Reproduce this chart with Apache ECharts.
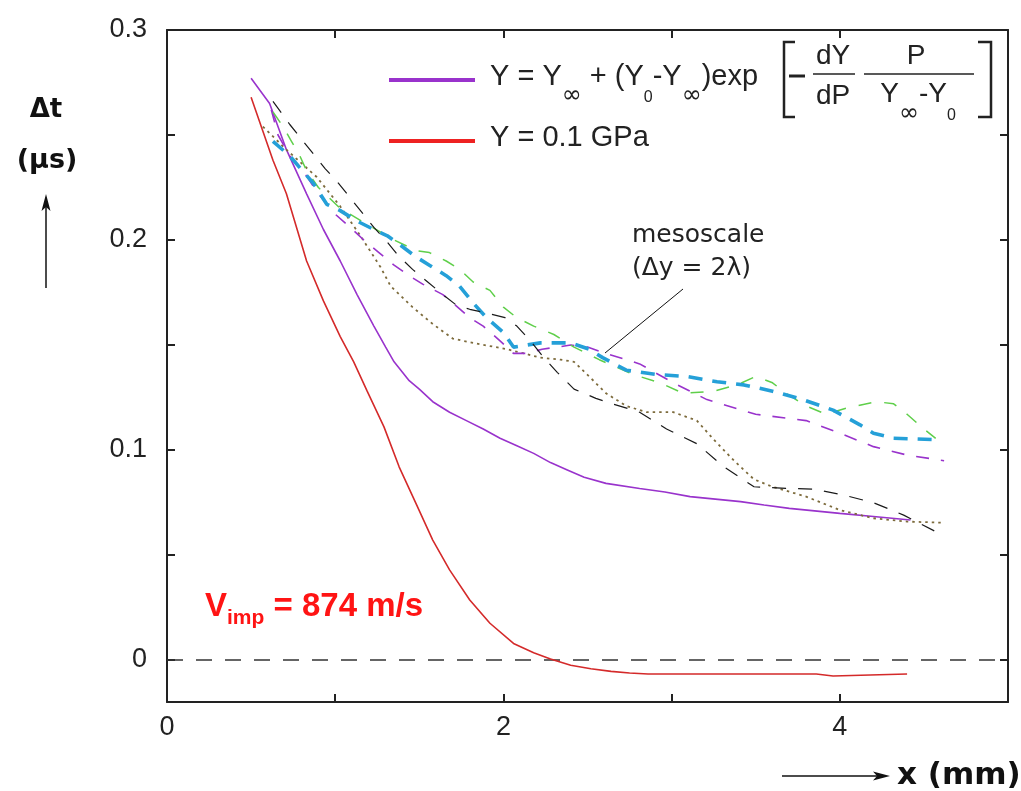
<!DOCTYPE html>
<html>
<head>
<meta charset="utf-8">
<script src="https://cdn.jsdelivr.net/npm/echarts@6/dist/echarts.min.js"></script>
<style>
  html, body { margin: 0; padding: 0; background: #ffffff; }
  #chart { width: 1021px; height: 791px; }
</style>
</head>
<body>
<div id="chart"></div>
<script>
// ---- data (x in mm, Δt in μs) ----
const xTickValues = [1, 2, 3, 4];
const xLabelValues = [0, 2, 4];
const yTickValues = [0, 0.05, 0.1, 0.15, 0.2, 0.25];
const yLabelValues = [0, 0.1, 0.2, 0.3];

const nameExp = 'Y = Y∞ + (Y0-Y∞)exp[−(dY/dP)·P/(Y∞−Y0)]';
const nameConst = 'Y = 0.1 GPa';

const expSolid = [[0.5,0.277],[0.61,0.265],[0.71,0.243],[0.83,0.222],[0.93,0.205],[1.03,0.190],[1.13,0.174],[1.23,0.159],[1.30,0.149],[1.35,0.142],[1.44,0.133],[1.50,0.129],[1.58,0.123],[1.68,0.118],[1.78,0.114],[1.88,0.110],[1.98,0.1056],[2.08,0.102],[2.18,0.0984],[2.28,0.094],[2.38,0.0905],[2.48,0.087],[2.61,0.0841],[2.81,0.0817],[2.96,0.0800],[3.11,0.0778],[3.26,0.0766],[3.41,0.0754],[3.55,0.0738],[3.70,0.0722],[3.85,0.0710],[4.0,0.0698],[4.2,0.0683],[4.42,0.0667]];

const constSolid = [[0.5,0.268],[0.63,0.238],[0.71,0.222],[0.83,0.190],[0.93,0.171],[1.03,0.154],[1.11,0.142],[1.19,0.128],[1.29,0.111],[1.38,0.092],[1.48,0.0746],[1.58,0.0571],[1.68,0.0429],[1.80,0.0286],[1.92,0.0175],[2.06,0.0079],[2.18,0.0035],[2.28,0.0005],[2.40,-0.0025],[2.52,-0.0042],[2.64,-0.0054],[2.75,-0.0062],[2.86,-0.0067],[3.2,-0.0067],[3.6,-0.0067],[3.86,-0.0067],[3.87,-0.0076],[3.96,-0.0076],[3.97,-0.0067],[4.40,-0.0067]];

const mesoPurple = [[0.62,0.262],[0.66,0.250],[0.73,0.240],[0.80,0.234],[0.90,0.222],[0.99,0.213],[1.09,0.206],[1.17,0.200],[1.26,0.194],[1.35,0.188],[1.44,0.183],[1.52,0.179],[1.64,0.174],[1.70,0.170],[1.80,0.163],[1.88,0.159],[1.98,0.152],[2.06,0.146],[2.14,0.146],[2.23,0.148],[2.32,0.149],[2.40,0.150],[2.50,0.149],[2.61,0.146],[2.81,0.141],[3.01,0.132],[3.21,0.124],[3.5,0.117],[3.8,0.114],[4.0,0.108],[4.2,0.1016],[4.4,0.0976],[4.62,0.0949]];

const mesoBlack = [[0.63,0.266],[0.73,0.255],[0.80,0.248],[0.87,0.241],[0.94,0.234],[1.02,0.227],[1.09,0.220],[1.16,0.213],[1.23,0.206],[1.31,0.199],[1.37,0.193],[1.46,0.186],[1.55,0.180],[1.64,0.174],[1.72,0.169],[1.80,0.167],[1.91,0.165],[2.01,0.163],[2.08,0.159],[2.16,0.152],[2.24,0.144],[2.32,0.137],[2.42,0.129],[2.55,0.1246],[2.64,0.1222],[2.81,0.118],[2.97,0.110],[3.15,0.103],[3.31,0.092],[3.49,0.0825],[3.70,0.0817],[3.84,0.0814],[4.02,0.0786],[4.2,0.0749],[4.38,0.069],[4.59,0.0603]];

const mesoGreen = [[0.63,0.261],[0.69,0.254],[0.74,0.247],[0.79,0.240],[0.83,0.233],[0.90,0.225],[1.03,0.215],[1.20,0.207],[1.35,0.200],[1.48,0.195],[1.56,0.194],[1.66,0.190],[1.74,0.186],[1.82,0.180],[1.92,0.176],[2.0,0.168],[2.08,0.163],[2.18,0.159],[2.30,0.155],[2.42,0.149],[2.57,0.143],[2.77,0.136],[2.93,0.132],[3.07,0.127],[3.25,0.128],[3.39,0.131],[3.5,0.135],[3.6,0.132],[3.68,0.127],[3.80,0.121],[3.92,0.117],[4.04,0.120],[4.22,0.123],[4.32,0.122],[4.40,0.117],[4.5,0.110],[4.57,0.1055]];

const mesoCyan = [[0.63,0.247],[0.73,0.240],[0.87,0.227],[0.95,0.217],[1.03,0.214],[1.13,0.209],[1.23,0.205],[1.31,0.202],[1.38,0.198],[1.48,0.192],[1.56,0.188],[1.66,0.183],[1.74,0.178],[1.82,0.170],[1.90,0.163],[2.0,0.156],[2.06,0.149],[2.22,0.151],[2.40,0.151],[2.51,0.148],[2.59,0.144],[2.73,0.138],[2.91,0.136],[3.09,0.135],[3.27,0.1325],[3.43,0.131],[3.6,0.128],[3.78,0.124],[3.96,0.119],[4.12,0.112],[4.2,0.108],[4.32,0.1056],[4.55,0.105]];

const mesoOlive = [[0.57,0.254],[0.71,0.243],[0.89,0.230],[1.03,0.216],[1.15,0.202],[1.27,0.187],[1.33,0.178],[1.46,0.168],[1.58,0.160],[1.70,0.153],[1.82,0.151],[2.02,0.148],[2.22,0.144],[2.34,0.143],[2.42,0.142],[2.51,0.135],[2.61,0.127],[2.73,0.121],[2.85,0.118],[3.01,0.118],[3.15,0.114],[3.25,0.105],[3.37,0.095],[3.49,0.086],[3.6,0.0825],[3.80,0.0778],[4.0,0.0714],[4.2,0.0675],[4.4,0.0659],[4.61,0.0654]];

const zeroLine = [[0, 0], [5, 0]];

// ---- chart ----
const AX = '#222222';
const SANS = '"Liberation Sans", Arial, Helvetica, sans-serif';
const WIDE = '"DejaVu Sans", "Liberation Sans", sans-serif';
const chart = echarts.init(document.getElementById('chart'), null, { renderer: 'canvas' });

function axisX(pos, showLabel) {
  return {
    type: 'value', position: pos, min: 0, max: 5, interval: 1,
    axisLine: { show: true, onZero: false, lineStyle: { color: AX, width: 2 } },
    axisTick: { show: true, inside: true, length: 8, customValues: xTickValues, lineStyle: { color: AX, width: 2 } },
    axisLabel: { show: showLabel, customValues: xLabelValues, margin: 12, fontSize: 27, fontFamily: SANS, color: '#222' },
    splitLine: { show: false }
  };
}
function axisY(pos, showLabel) {
  return {
    type: 'value', position: pos, min: -0.02, max: 0.3,
    axisLine: { show: true, onZero: false, lineStyle: { color: AX, width: 2 } },
    axisTick: { show: true, inside: true, length: 8, customValues: yTickValues, lineStyle: { color: AX, width: 2 } },
    axisLabel: { show: showLabel, customValues: yLabelValues, margin: 20, fontSize: 27, fontFamily: SANS, color: '#222',
      formatter: v => (v === 0 ? '0' : v.toFixed(1)) },
    splitLine: { show: false }
  };
}
function lineSeries(name, data, color, width, type, z) {
  return {
    name, type: 'line', data, xAxisIndex: 0, yAxisIndex: 0,
    symbol: 'none', smooth: false, silent: true, z: z,
    lineStyle: { color, width, type }, itemStyle: { color }
  };
}

// legend rich styles (ECharts model: "color")
const legSub = { fontSize: 16, lineHeight: 16, padding: [28, 0, 0, 0], verticalAlign: 'top', fontFamily: SANS, color: '#222' };
const legInf = { fontSize: 24, lineHeight: 22, padding: [22, 0, 0, 0], verticalAlign: 'top', fontFamily: WIDE, color: '#222' };
const legMain = { fontSize: 29, lineHeight: 36, verticalAlign: 'top', fontFamily: SANS, color: '#222' };
// graphic rich styles (zrender: "fill")
const gSub = { fontSize: 16, lineHeight: 16, padding: [28, 0, 0, 0], verticalAlign: 'top', fontFamily: SANS, fill: '#222' };
const gInf = { fontSize: 24, lineHeight: 22, padding: [22, 0, 0, 0], verticalAlign: 'top', fontFamily: WIDE, fill: '#222' };
const gMain = { fontSize: 28, lineHeight: 36, verticalAlign: 'top', fontFamily: SANS, fill: '#222' };

chart.setOption({
  animation: false,
  backgroundColor: '#ffffff',
  grid: { left: 167, right: 13, top: 30, bottom: 89, containLabel: false },
  xAxis: [axisX('bottom', true), axisX('top', false)],
  yAxis: [axisY('left', true), axisY('right', false)],
  legend: {
    orient: 'vertical', left: 389, top: 62, padding: 0, itemGap: 15,
    itemWidth: 86, itemHeight: 4, icon: 'rect', selectedMode: false,
    data: [
      { name: nameExp, itemStyle: { color: '#9933cc' } },
      { name: nameConst, itemStyle: { color: '#ee2222' } }
    ],
    formatter: name => name === nameExp
      ? '{g| }{n|Y = Y}{i|∞}{n| + (Y}{s|0}{n|-Y}{i|∞}{n|)exp}'
      : '{g| }{m|Y = 0.1 GPa}',
    textStyle: {
      color: '#222', fontFamily: SANS, fontSize: 29,
      rich: {
        g: { width: 10, fontSize: 10, lineHeight: 36, verticalAlign: 'top' },
        n: legMain,
        s: legSub,
        i: legInf,
        m: { fontSize: 29, lineHeight: 36, padding: [0, 0, 6, 0], verticalAlign: 'top', fontFamily: SANS, color: '#222' }
      }
    }
  },
  series: [
    lineSeries('zero', zeroLine, '#333333', 1.6, [16, 13], 1),
    lineSeries(nameConst, constSolid, '#d42a2a', 1.6, 'solid', 2),
    lineSeries(nameExp, expSolid, '#9933cc', 1.6, 'solid', 2),
    lineSeries('mesoscale olive', mesoOlive, '#7d6b3c', 1.8, [2.5, 4], 3),
    lineSeries('mesoscale purple', mesoPurple, '#9933cc', 1.6, [13, 12], 3),
    lineSeries('mesoscale green', mesoGreen, '#5fcf4a', 1.5, [13, 13], 3),
    lineSeries('mesoscale (Δy = 2λ)', mesoCyan, '#25a0d8', 3.6, [14, 10], 4),
    lineSeries('mesoscale black', mesoBlack, '#1a1a1a', 1.2, [14, 12], 5)
  ],
  graphic: [
    // bracketed exponent of the legend formula
    { type: 'polyline', shape: { points: [[795, 42], [784, 42], [784, 117], [795, 117]] }, style: { stroke: '#222', lineWidth: 2.5, fill: null } },
    { type: 'polyline', shape: { points: [[978, 42], [991, 42], [991, 117], [978, 117]] }, style: { stroke: '#222', lineWidth: 2.5, fill: null } },
    { type: 'line', shape: { x1: 789, y1: 76, x2: 805, y2: 76 }, style: { stroke: '#222', lineWidth: 3 } },
    { type: 'line', shape: { x1: 813, y1: 74, x2: 855, y2: 74 }, style: { stroke: '#222', lineWidth: 1.5 } },
    { type: 'line', shape: { x1: 864, y1: 74, x2: 974, y2: 74 }, style: { stroke: '#222', lineWidth: 1.5 } },
    { type: 'text', x: 833, y: 56, style: { text: 'dY', font: '28px ' + SANS, fill: '#222', align: 'center', verticalAlign: 'middle' } },
    { type: 'text', x: 833, y: 96, style: { text: 'dP', font: '28px ' + SANS, fill: '#222', align: 'center', verticalAlign: 'middle' } },
    { type: 'text', x: 916, y: 56, style: { text: 'P', font: '28px ' + SANS, fill: '#222', align: 'center', verticalAlign: 'middle' } },
    { type: 'text', x: 918, y: 80, style: {
        text: '{n|Y}{i|∞}{n|-Y}{s|0}', align: 'center', verticalAlign: 'top',
        rich: { n: gMain, s: gSub, i: gInf } } },
    // y axis title
    { type: 'text', x: 46, y: 110, style: { text: 'Δt', font: 'bold 26px ' + WIDE, fill: '#111', align: 'center', verticalAlign: 'middle' } },
    { type: 'text', x: 47, y: 161, style: { text: '(μs)', font: 'bold 27px ' + WIDE, fill: '#111', align: 'center', verticalAlign: 'middle' } },
    { type: 'line', shape: { x1: 46, y1: 288, x2: 46, y2: 205 }, style: { stroke: '#111', lineWidth: 1.5 } },
    { type: 'polygon', shape: { points: [[46, 194], [41.5, 211], [46, 207], [50.5, 211]] }, style: { fill: '#111' } },
    // x axis title
    { type: 'line', shape: { x1: 782, y1: 776, x2: 878, y2: 776 }, style: { stroke: '#111', lineWidth: 1.5 } },
    { type: 'polygon', shape: { points: [[890, 776], [873, 771.5], [877, 776], [873, 780.5]] }, style: { fill: '#111' } },
    { type: 'text', x: 897, y: 776, style: { text: 'x (mm)', font: 'bold 31px ' + WIDE, fill: '#111', align: 'left', verticalAlign: 'middle' } },
    // impact velocity
    { type: 'text', x: 205, y: 590, style: {
        text: '{b|V}{s|imp}{b| = 874 m/s}', align: 'left', verticalAlign: 'top', fill: '#ff1414',
        rich: {
          b: { fontSize: 33, fontWeight: 'bold', lineHeight: 40, verticalAlign: 'top', fontFamily: SANS, fill: '#ff1414' },
          s: { fontSize: 21, fontWeight: 'bold', lineHeight: 21, padding: [18, 0, 0, 0], verticalAlign: 'top', fontFamily: SANS, fill: '#ff1414' }
        } } },
    // mesoscale annotation
    { type: 'text', x: 632, y: 235, style: { text: 'mesoscale', font: '25px ' + WIDE, fill: '#222', align: 'left', verticalAlign: 'middle' } },
    { type: 'text', x: 632, y: 268, style: { text: '(Δy = 2λ)', font: '25px ' + WIDE, fill: '#222', align: 'left', verticalAlign: 'middle' } },
    { type: 'line', shape: { x1: 683, y1: 289, x2: 605, y2: 353 }, style: { stroke: '#111', lineWidth: 1 } }
  ]
});
</script>
</body>
</html>
